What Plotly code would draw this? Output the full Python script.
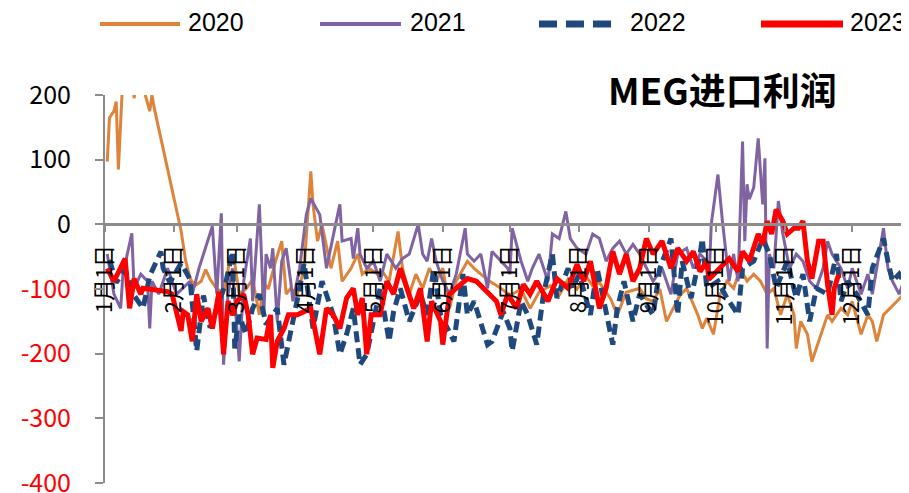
import pandas as pd
import plotly.graph_objects as go

# ---------------- data (day of year, value) ----------------
days_2020 = [1,2,4,5,6,8,10,12,13,15, 17,18,20,21,22,34,36,38,40,43,
             45,47,50,53,56,58,60,63,66,69, 71,73,76,79,81,83,86,89,92,93,
             95,97,101,104,106,110,113,115,118,122, 124,127,131,133,136,139,142,145,148,151,
             154,157,162,165,168,172,177,181,186,190, 194,199,203,207,211,215,218,221,226,229,
             233,239,242,245,248,251,254,257,260,265, 267,269,272,275,278,281,284,287,290,293,
             296,299,302,305,308,309,311,314,316,320, 323,325,329,332,334,338,341,343,345,348,
             351,354,357,359]
vals_2020 = [97,165,175,190,85,230,260,250,195,240, 250,200,175,200,180,-10,-55,-83,-95,-88,
             -70,-85,-100,-105,-53,-60,-108,-100,-85,-140, -90,-100,-60,-26,-108,-99,-108,-68,82,30,
             -26,0,-68,-26,-88,-68,-46,-77,-68,-77, -73,-88,-11,-68,-108,-77,-99,-68,-88,-68,
             -130,-88,-57,-68,-77,-88,-99,-110,-100,-130, -105,-95,-110,-85,-100,-80,-95,-90,-115,-140,
             -105,-99,-115,-119,-100,-150,-130,-110,-99,-140, -161,-145,-170,-108,-88,-99,-68,-88,-77,-88,
             -108,-99,-140,-108,-140,-192,-150,-170,-212,-170, -140,-150,-130,-140,-119,-170,-140,-150,-181,-140,
             -130,-119,-108,-114]

days_2021 = [1,4,7,8,12,13,16,19,20,21, 24,28,32,38,39,42,48,50,52,53,
             55,57,60,62,65,66,69,71,72,74, 75,77,79,81,83,84,87,90,92,96,
             99,102,104,105,106,110,111,113,114,117, 120,123,126,130,133,136,140,142,144,146,
             148,151,154,157,161,162,165,168,171,173, 177,180,181,182,186,189,191,194,198,200,
             203,206,208,211,215,218,221,224,227,230, 233,236,239,245,249,253,256,260,263,266,
             269,270,271,274,276,279,281,283,285,286, 287,288,290,292,294,295,296,297,299,301,
             303,306,309,312,315,318,321,323,325,329, 332,334,338,341,343,348,350,352,355,359]
vals_2021 = [-46,-108,-130,-77,-14,-99,-77,-88,-161,-88, -108,-68,-108,-88,-108,-68,-3,-108,17,-217,
             -108,-68,-212,-88,-22,-119,31,-140,-46,-68, -37,-150,-57,-37,-88,-119,-68,15,40,15,
             -68,-15,15,31,-26,-22,-53,-6,-46,-68, -57,-88,-46,-68,-53,-46,0,-46,-57,-22,
             -57,-88,-108,-77,-6,-46,-57,-46,-99,-42, -57,-68,-77,-6,-57,-88,-68,-46,-88,-15,
             -22,20,-22,-37,-46,-15,-22,-57,-37,-26, -46,-31,-46,-88,-68,-108,-46,-37,-68,-46,
             -57,-88,0,77,5,-88,-46,-88,128,-26, 62,39,57,133,31,102,-192,-46,-68,36,
             -15,-68,-46,-57,-88,-99,-68,-26,-46,-68, -99,-68,-108,-77,-108,-6,-68,-88,-108,-68]

days_2022 = [2,5,9,13,17,20,25,26,29,34, 38,41,44,47,51,54,57,58,60,63,
             66,69,72,77,80,83,87,89,93,97, 102,105,108,111,114,117,120,123,127,129,
             132,136,141,144,147,150,153,156,160,162, 165,168,171,173,177,178,181,182,186,189,
             193,196,200,202,207,209,212,217,220,223, 227,229,232,236,239,245,248,253,256,258,
             262,266,267,269,274,278,283,285,290,294, 297,300,305,309,312,315,318,323,327,329,
             332,336,341,343,348,350,352,355,359]
vals_2022 = [-55,-90,-70,-110,-130,-80,-42,-68,-90,-60, -85,-196,-110,-160,-120,-90,-42,-192,-140,-170,
             -130,-108,-155,-130,-217,-170,-99,-60,-161,-88, -140,-201,-170,-130,-217,-201,-150,-99,-181,-135,
             -99,-150,-108,-140,-68,-140,-160,-181,-77,-140, -119,-150,-186,-181,-140,-135,-161,-196,-119,-140,
             -186,-108,-46,-114,-68,-99,-77,-140,-68,-119, -186,-130,-88,-150,-108,-140,-68,-22,-140,-57,
             -114,-46,-22,-99,-88,-114,-140,-68,-57,-22, -46,-99,-57,-114,-77,-150,-99,-108,-46,-119,
             -88,-108,-140,-68,-22,-57,-88,-77,-99]

days_2023 = [1,4,9,11,13,16,17,21,28,30, 34,35,37,39,41,43,46,48,51,53,
             55,57,59,62,64,66,68,72,74,75, 77,80,82,86,89,92,96,99,102,105,
             108,111,113,115,117,119,123,126,129,132, 135,138,141,144,146,150,151,154,157,162,
             166,171,175,177,180,184,187,190,193,198, 202,207,211,214,217,221,224,227,230,233,
             236,239,242,245,249,253,256,260,263,266, 269,270,275,279,283,285,288,292,294,296,
             298,300,303,305,308,310,312,314,316,319, 321,323,325,326,328]
vals_2023 = [-68,-88,-53,-130,-84,-108,-99,-101,-104,-108, -165,-135,-140,-181,-108,-150,-130,-161,-104,-201,
             -119,-140,-119,-108,-140,-201,-176,-178,-140,-222, -181,-161,-140,-140,-135,-130,-201,-130,-140,-161,
             -114,-99,-140,-114,-201,-140,-140,-88,-108,-68, -99,-130,-99,-181,-119,-150,-186,-108,-99,-84,
             -88,-104,-119,-140,-108,-130,-93,-108,-88,-119, -84,-99,-62,-88,-57,-130,-99,-42,-77,-46,
             -88,-68,-22,-46,-26,-68,-37,-57,-42,-73, -57,-85,-68,-53,-73,-42,-57,-15,-31,5,
             -15,23,5,-15,-6,-6,5,-57,-84,-26, -26,-93,-140,-99,-77]

month_starts = ["2023-01-01","2023-02-01","2023-03-01","2023-04-01","2023-05-01","2023-06-01",
                "2023-07-01","2023-08-01","2023-09-01","2023-10-01","2023-11-01","2023-12-01"]
month_labels = ["1月1日","2月1日","3月1日","4月1日","5月1日","6月1日",
                "7月1日","8月1日","9月1日","10月1日","11月1日","12月1日"]
y_ticks = [200, 100, 0, -100, -200, -300, -400]
series_names = ["2020", "2021", "2022", "2023"]
title_text = "MEG进口利润"

# ---------------- styling ----------------
# The page body adds an 8px margin, so the figure is laid out in page pixels minus 8.
OFF = 8
W, H = 909 - OFF, 493 - OFF
def px(X):
    return (X - OFF) / W
def py(Y):
    return 1 - (Y - OFF) / H

colors = {"2020": "#DD843A", "2021": "#8064A2", "2022": "#1F497D", "2023": "#FF0000"}
widths = {"2020": 3, "2021": 3, "2022": 5, "2023": 5}
dashes = {"2020": "solid", "2021": "solid", "2022": "11px,6px", "2023": "solid"}
FONT = "Noto Sans CJK SC, Noto Sans, sans-serif"
AXIS_GREY = "#8C8C8C"

base = pd.Timestamp("2023-01-01")
def to_dates(days):
    return [base + pd.Timedelta(days=d) for d in days]

data = {"2020": (days_2020, vals_2020), "2021": (days_2021, vals_2021),
        "2022": (days_2022, vals_2022), "2023": (days_2023, vals_2023)}

fig = go.Figure()
for name in series_names:
    d, v = data[name]
    fig.add_trace(go.Scatter(
        x=to_dates(d), y=v, mode="lines", name=name, showlegend=False,
        line=dict(color=colors[name], width=widths[name], dash=dashes[name]),
    ))

x_dom = [px(105), 1.0]
y_dom = [py(483), py(95)]
y_min, y_max = -400, 200
zero_pos = y_dom[0] + (0 - y_min) / (y_max - y_min) * (y_dom[1] - y_dom[0])

ytext = []
for t in y_ticks:
    if t < 0:
        ytext.append('<span style="color:#FF0000">%d</span>' % t)
    else:
        ytext.append(str(t))

fig.update_layout(
    width=W, height=H, autosize=False,
    margin=dict(l=0, r=0, t=0, b=0, pad=0, autoexpand=False),
    paper_bgcolor="white", plot_bgcolor="white",
    font=dict(family=FONT, color="black"),
    xaxis=dict(
        type="date", domain=x_dom, anchor="free", position=zero_pos,
        range=[base, base + pd.Timedelta(days=359.4)],
        tickmode="array", tickvals=month_starts, ticktext=month_labels,
        tickangle=-90, tickfont=dict(size=22, family=FONT, color="black"),
        ticks="outside", ticklen=6, tickwidth=2, tickcolor=AXIS_GREY,
        showline=True, linecolor=AXIS_GREY, linewidth=2.5,
        showgrid=False, zeroline=False, ticklabelstandoff=4,
        ticklabeloverflow="allow",
    ),
    yaxis=dict(
        domain=y_dom, range=[y_min, y_max],
        tickmode="array", tickvals=y_ticks, ticktext=ytext,
        tickfont=dict(size=25, family=FONT, color="black"),
        ticks="outside", ticklen=8, tickwidth=2, tickcolor=AXIS_GREY,
        showline=True, linecolor=AXIS_GREY, linewidth=2,
        showgrid=False, zeroline=False, ticklabelstandoff=19,
        ticklabeloverflow="allow",
    ),
)

# title
fig.add_annotation(
    text=title_text, xref="paper", yref="paper", x=px(722), y=py(89),
    xanchor="center", yanchor="middle", showarrow=False,
    font=dict(size=37, family=FONT, color="black", weight="bold"),
)

# legend drawn at the top
legend_items = [("2020", 100, 180, 186), ("2021", 320, 401, 408),
                ("2022", 539, 613, 628), ("2023", 761, 843, 848)]
legend_w = {"2020": 4, "2021": 4, "2022": 7, "2023": 7}
legend_dash = {"2020": "solid", "2021": "solid", "2022": "18px,9px", "2023": "solid"}
for name, x0, x1, tx in legend_items:
    fig.add_shape(type="line", xref="paper", yref="paper",
                  x0=px(x0), x1=px(x1), y0=py(24), y1=py(24),
                  line=dict(color=colors[name], width=legend_w[name], dash=legend_dash[name]))
    fig.add_annotation(text=name, xref="paper", yref="paper", x=px(tx), y=py(22),
                       xanchor="left", yanchor="middle", showarrow=False,
                       font=dict(size=25, family="Liberation Sans, Arial, sans-serif", color="black"))

fig.write_html("out.html")
